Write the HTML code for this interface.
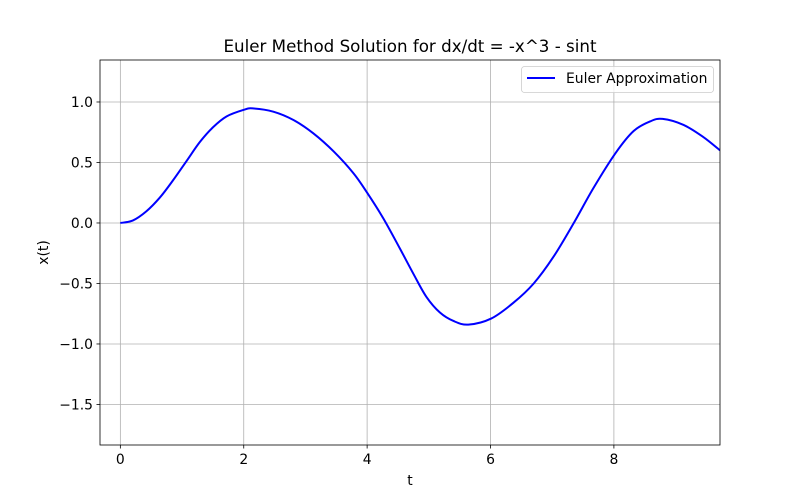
<!DOCTYPE html>
<html><head><meta charset="utf-8"><style>
body{margin:0;background:#fff;}
svg{display:block;font-family:"DejaVu Sans","Liberation Sans",sans-serif;}
</style></head><body>
<svg id="chart" width="800" height="500"></svg>
<script>
const tValues=[0,0.2,0.42,0.64,0.85,1.07,1.29,1.5,1.72,2.0,2.15,2.48,2.81,3.13,3.46,3.78,4.0,4.26,4.53,4.75,4.96,5.18,5.4,5.64,6.01,6.37,6.7,7.02,7.35,7.67,8.03,8.32,8.59,8.79,9.13,9.45,9.72];
const xValues=[0,0.02,0.096,0.21,0.35,0.51,0.67,0.79,0.88,0.935,0.947,0.92,0.85,0.74,0.59,0.41,0.25,0.04,-0.21,-0.42,-0.61,-0.74,-0.81,-0.84,-0.79,-0.66,-0.50,-0.28,0.0,0.29,0.58,0.76,0.84,0.86,0.81,0.71,0.60];
const xTicks=[0,2,4,6,8];
const yTicks=[1.0,0.5,0.0,-0.5,-1.0,-1.5];
const yTickLabels=["1.0","0.5","0.0","\u22120.5","\u22121.0","\u22121.5"];

const L=100,R=720,T=60,B=445;
const tMin=-0.33,tMax=9.72,yMin=-1.835,yMax=1.347;
const sx=t=>L+(t-tMin)/(tMax-tMin)*(R-L);
const sy=v=>B-(v-yMin)/(yMax-yMin)*(B-T);
const NS="http://www.w3.org/2000/svg";
const svg=document.getElementById('chart');
function mk(tag,attrs,parent){const e=document.createElementNS(NS,tag);for(const k in attrs)e.setAttribute(k,attrs[k]);(parent||svg).appendChild(e);return e;}

xTicks.forEach(t=>{
  const g=mk('line',{x1:sx(t),x2:sx(t),y1:T,y2:B,stroke:'#b0b0b0','stroke-width':0.8});
  
  
  mk('line',{x1:sx(t),x2:sx(t),y1:B,y2:B+3.5,stroke:'#000','stroke-width':0.8});
  const tx=mk('text',{x:sx(t),y:B+19,'font-size':13.9,'text-anchor':'middle'});
  tx.textContent=t;
  
  
});
yTicks.forEach((v,i)=>{
  const g=mk('line',{x1:L,x2:R,y1:sy(v),y2:sy(v),stroke:'#b0b0b0','stroke-width':0.8});
  
  
  mk('line',{x1:L-3.5,x2:L,y1:sy(v),y2:sy(v),stroke:'#000','stroke-width':0.8});
  const tx=mk('text',{x:L-7,y:sy(v)+5,'font-size':13.9,'text-anchor':'end'});
  tx.textContent=yTickLabels[i];
  
  
});

const pts=tValues.map((t,i)=>[sx(t),sy(xValues[i])]);
let d=`M${pts[0][0]},${pts[0][1]}`;
for(let i=0;i<pts.length-1;i++){
  const p0=pts[Math.max(0,i-1)],p1=pts[i],p2=pts[i+1],p3=pts[Math.min(pts.length-1,i+2)];
  const c1=[p1[0]+(p2[0]-p0[0])/6,p1[1]+(p2[1]-p0[1])/6];
  const c2=[p2[0]-(p3[0]-p1[0])/6,p2[1]-(p3[1]-p1[1])/6];
  d+=` C${c1[0]},${c1[1]} ${c2[0]},${c2[1]} ${p2[0]},${p2[1]}`;
}
const clip=mk('clipPath',{id:'c'});mk('rect',{x:L,y:T,width:R-L,height:B-T},clip);
const line=mk('path',{d:d,fill:'none',stroke:'#0000ff','stroke-width':2,'clip-path':'url(#c)'});



const frame=mk('rect',{x:L,y:T,width:R-L,height:B-T,fill:'none',stroke:'#000','stroke-width':0.8});



const title=mk('text',{x:(L+R)/2,y:T-8,'font-size':16.7,'text-anchor':'middle'});
title.textContent='Euler Method Solution for dx/dt = -x^3 - sint';


const xl=mk('text',{x:(L+R)/2,y:485,'font-size':13.9,'text-anchor':'middle'});
xl.textContent='t';


const yl=mk('text',{x:0,y:0,'font-size':13.9,'text-anchor':'middle',transform:`translate(48,${(T+B)/2}) rotate(-90)`});
yl.textContent='x(t)';



const lg=mk('g',{});


mk('rect',{x:521.5,y:66.5,width:192,height:26,rx:3,fill:'#fff','fill-opacity':0.8,stroke:'#cccccc','stroke-width':0.8},lg);
mk('line',{x1:527,x2:555,y1:78,y2:78,stroke:'#0000ff','stroke-width':2},lg);
const lt=mk('text',{x:566,y:83,'font-size':13.9},lg);
lt.textContent='Euler Approximation';


</script>
</body></html>
